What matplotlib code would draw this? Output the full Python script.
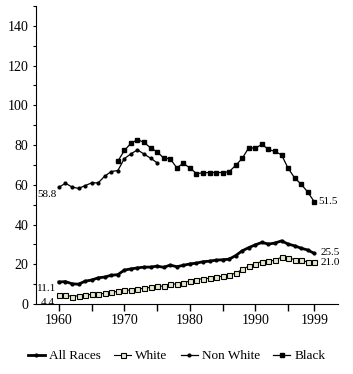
import matplotlib
matplotlib.use("Agg")
import matplotlib.pyplot as plt
from matplotlib.ticker import MultipleLocator, FixedLocator

plt.rcParams['font.family'] = ['Liberation Serif', 'DejaVu Serif']

years = list(range(1960, 2000))
all_races = [11.1, 11.3, 10.2, 10.0, 11.5, 12.1, 13.2, 13.6, 14.5, 14.8,
             17.1, 17.7, 18.2, 18.6, 18.6, 19.1, 18.5, 19.6, 18.8, 19.5,
             20.2, 20.6, 21.3, 21.6, 22.1, 22.3, 22.6, 24.4, 26.8, 28.4,
             29.8, 31.0, 30.2, 30.7, 31.8, 30.2, 29.3, 28.1, 27.2, 25.5]
white = [4.4, 4.5, 3.8, 4.2, 4.5, 4.9, 5.0, 5.4, 5.9, 6.4,
         7.0, 7.0, 7.5, 8.0, 8.4, 9.0, 9.0, 10.2, 10.0, 10.4,
         11.8, 12.3, 12.8, 12.9, 13.4, 14.1, 14.6, 15.6, 17.4, 19.1,
         20.4, 21.4, 21.5, 22.1, 23.6, 23.2, 22.4, 22.0, 21.2, 21.0]
nw_years = list(range(1960, 1976))
non_white = [58.8, 60.8, 58.9, 58.2, 59.6, 61.0, 61.0, 64.4, 66.7, 67.2,
             73.2, 75.6, 77.6, 75.5, 73.4, 71.1]
bl_years = list(range(1969, 2000))
black = [71.9, 77.3, 80.9, 82.7, 81.4, 78.6, 76.6, 73.5, 73.1, 68.6,
         70.8, 68.5, 65.7, 66.0, 66.2, 66.2, 66.2, 66.6, 69.8, 73.3,
         78.7, 78.4, 80.4, 77.8, 76.8, 75.1, 68.4, 63.5, 60.3, 56.4, 51.5]

fig = plt.figure(figsize=(3.53, 3.74), dpi=100)
ax = fig.add_axes([0.102, 0.187, 0.855, 0.797])

ax.plot(years, all_races, color='black', lw=2.0, marker='o', ms=2.0,
        label='All Races')
ax.plot(years, white, color='black', lw=0.8, marker='s', ms=3.6,
        mfc='#e8e8c8', mec='black', mew=0.8, label='White')
ax.plot(nw_years, non_white, color='black', lw=0.9, marker='o', ms=2.0,
        label='Non White')
ax.plot(bl_years, black, color='black', lw=0.9, marker='s', ms=3.5,
        label='Black')

fs = 8
ax.text(1960 - 0.4, non_white[0] - 1.2, '58.8', ha='right', va='top', fontsize=fs)
ax.text(1960 - 0.4, all_races[0] - 1.0, '11.1', ha='right', va='top', fontsize=fs)
ax.text(1960 - 0.6, white[0] - 1.5, '4.4', ha='right', va='top', fontsize=fs)
ax.text(1999 + 0.6, black[-1], '51.5', ha='left', va='center', fontsize=fs)
ax.text(1999 + 0.9, all_races[-1] + 0.6, '25.5', ha='left', va='center', fontsize=fs)
ax.text(1999 + 0.9, white[-1], '21.0', ha='left', va='center', fontsize=fs)

ax.set_xlim(1956.5, 2002.6)
ax.set_ylim(0, 150)
ax.xaxis.set_major_locator(FixedLocator([1960, 1970, 1980, 1990, 1999]))
ax.xaxis.set_minor_locator(FixedLocator([1965, 1975, 1985, 1995]))
ax.yaxis.set_major_locator(MultipleLocator(20))
ax.yaxis.set_minor_locator(MultipleLocator(10))
ax.tick_params(axis='x', which='both', direction='out', length=5, width=1, labelsize=10, pad=2)
ax.tick_params(axis='y', which='both', direction='out', length=2.5, width=0.8, labelsize=10, pad=3)
ax.spines['top'].set_visible(False)
ax.spines['right'].set_visible(False)

fig.legend(loc='lower center', bbox_to_anchor=(0.5, 0.0), ncol=4, frameon=False,
           fontsize=9.5, handlelength=1.3, handletextpad=0.3, columnspacing=1.0)

fig.savefig('out.png', dpi=100)
